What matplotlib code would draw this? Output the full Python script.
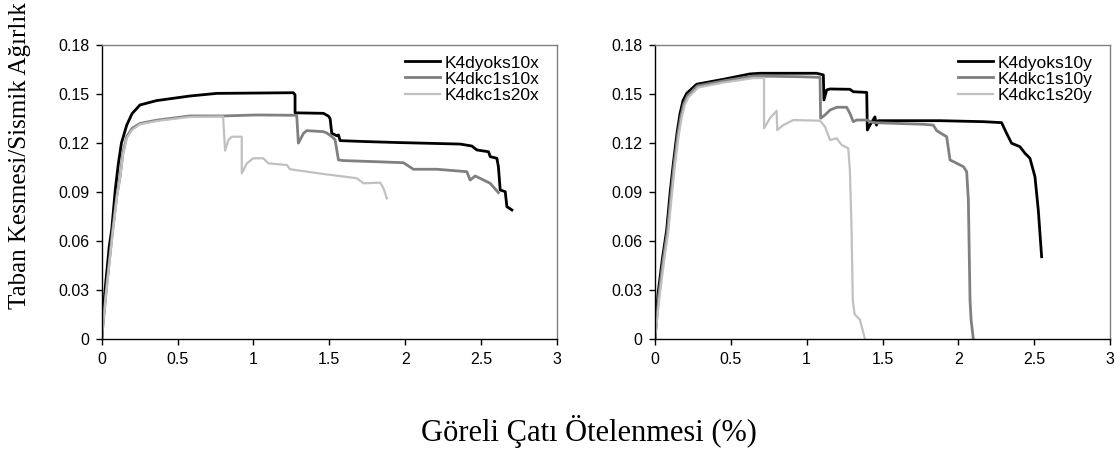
import matplotlib
matplotlib.use("Agg")
import matplotlib.pyplot as plt

# ---------------- data (left panel, x direction) ----------------
lx_black = [0, 0.02, 0.05, 0.066, 0.09, 0.11, 0.13, 0.165, 0.2, 0.252, 0.362, 0.582, 0.758, 1.263, 1.274, 1.274,
            1.461, 1.494, 1.505, 1.516, 1.549, 1.56, 1.571, 1.747, 1.966, 2.362, 2.439, 2.472, 2.549, 2.56, 2.604,
            2.614, 2.626, 2.659, 2.67, 2.703]
ly_black = [0, 0.028, 0.057, 0.067, 0.092, 0.1076, 0.12, 0.131, 0.138, 0.1433, 0.146, 0.1488, 0.1504, 0.1508,
            0.1495, 0.1385, 0.1382, 0.1365, 0.135, 0.126, 0.1245, 0.125, 0.1215, 0.1209, 0.1203, 0.1194, 0.1182,
            0.1158, 0.1147, 0.1117, 0.1107, 0.1056, 0.0913, 0.0903, 0.0811, 0.0791]

lx_gray = [0, 0.03, 0.07, 0.1, 0.121, 0.14, 0.165, 0.2, 0.252, 0.362, 0.582, 0.80, 1.02, 1.285, 1.296, 1.33, 1.351,
           1.461, 1.483, 1.516, 1.538, 1.56, 1.593, 1.813, 1.988, 2.054, 2.208, 2.406, 2.428, 2.461, 2.56, 2.614]
ly_gray = [0, 0.03, 0.065, 0.088, 0.0995, 0.114, 0.124, 0.129, 0.132, 0.134, 0.1366, 0.1366, 0.1372, 0.137, 0.12,
           0.126, 0.1276, 0.127, 0.1262, 0.124, 0.122, 0.1097, 0.1093, 0.1086, 0.108, 0.104, 0.104, 0.1025, 0.0974,
           0.0999, 0.0954, 0.0897]

lx_light = [0, 0.03, 0.07, 0.1, 0.121, 0.14, 0.165, 0.2, 0.252, 0.362, 0.582, 0.80, 0.813, 0.835, 0.857, 0.923,
            0.923, 0.956, 0.999, 1.065, 1.098, 1.22, 1.241, 1.461, 1.681, 1.725, 1.835, 1.857, 1.879]
ly_light = [0, 0.029, 0.063, 0.087, 0.0985, 0.113, 0.123, 0.128, 0.1315, 0.1335, 0.136, 0.1362, 0.1154, 0.1219,
            0.1239, 0.1239, 0.1015, 0.1076, 0.1107, 0.1107, 0.1076, 0.1066, 0.104, 0.1011, 0.0985, 0.0954, 0.0958,
            0.0923, 0.0862]

# ---------------- data (right panel, y direction) ----------------
rx_black = [0, 0.02, 0.05, 0.077, 0.1, 0.121, 0.145, 0.165, 0.185, 0.209, 0.275, 0.45, 0.626, 0.692, 1.066, 1.11,
            1.114, 1.132, 1.154, 1.285, 1.307, 1.396, 1.40, 1.417, 1.45, 1.46, 1.472, 1.879, 2.164, 2.285, 2.318,
            2.351, 2.406, 2.439, 2.472, 2.505, 2.527, 2.549]
ry_black = [0, 0.028, 0.05, 0.0668, 0.09, 0.1076, 0.126, 0.138, 0.146, 0.1504, 0.156, 0.159, 0.1623, 0.1627,
            0.1627, 0.1617, 0.1464, 0.1525, 0.1531, 0.1529, 0.1514, 0.151, 0.128, 0.131, 0.136, 0.131, 0.1337,
            0.1337, 0.1331, 0.1325, 0.126, 0.1199, 0.1178, 0.1138, 0.1107, 0.0995, 0.0791, 0.0505]

rx_gray = [0, 0.025, 0.055, 0.082, 0.105, 0.125, 0.15, 0.17, 0.19, 0.215, 0.28, 0.45, 0.648, 0.956, 1.088, 1.092,
           1.121, 1.154, 1.198, 1.264, 1.285, 1.307, 1.33, 1.396, 1.439, 1.769, 1.835, 1.857, 1.923, 1.945, 2.033,
           2.055, 2.066, 2.077, 2.084, 2.099]
ry_gray = [0, 0.027, 0.049, 0.066, 0.088, 0.106, 0.125, 0.136, 0.144, 0.149, 0.155, 0.158, 0.161, 0.1606, 0.1602,
           0.1352, 0.1372, 0.1402, 0.1419, 0.1419, 0.1382, 0.1331, 0.1341, 0.1341, 0.1325, 0.1315, 0.131, 0.1276,
           0.1239, 0.1097, 0.1056, 0.1025, 0.0852, 0.024, 0.0118, 0.0]

rx_light = [0, 0.03, 0.06, 0.087, 0.11, 0.13, 0.155, 0.175, 0.195, 0.22, 0.285, 0.45, 0.65, 0.719, 0.719, 0.758,
            0.802, 0.806, 0.846, 0.912, 1.088, 1.121, 1.154, 1.198, 1.231, 1.274, 1.285, 1.296, 1.304, 1.316, 1.351,
            1.385]
ry_light = [0, 0.026, 0.048, 0.065, 0.087, 0.105, 0.124, 0.135, 0.143, 0.148, 0.154, 0.157, 0.1598, 0.1598, 0.129,
            0.1352, 0.1398, 0.128, 0.131, 0.1341, 0.1337, 0.13, 0.1219, 0.1229, 0.1188, 0.1168, 0.1035, 0.0668,
            0.024, 0.0153, 0.012, 0.0]

left_labels = ["K4dyoks10x", "K4dkc1s10x", "K4dkc1s20x"]
right_labels = ["K4dyoks10y", "K4dkc1s10y", "K4dkc1s20y"]
xticks = [0, 0.5, 1, 1.5, 2, 2.5, 3]
xtick_labels = ["0", "0.5", "1", "1.5", "2", "2.5", "3"]
yticks = [0, 0.03, 0.06, 0.09, 0.12, 0.15, 0.18]
ytick_labels = ["0", "0.03", "0.06", "0.09", "0.12", "0.15", "0.18"]
xlabel = "Göreli Çatı Ötelenmesi (%)"
ylabel = "Taban Kesmesi/Sismik Ağırlık"

colors = ["#000000", "#808080", "#c0c0c0"]
widths = [2.0, 2.0, 1.6]

plt.rcParams["font.family"] = ["Liberation Sans", "DejaVu Sans"]

fig = plt.figure(figsize=(11.2, 4.59), dpi=100)
ax1 = fig.add_axes([0.0908, 0.2608, 0.4065, 0.6412])
ax2 = fig.add_axes([0.5848, 0.2608, 0.4063, 0.6412])

panels = [
    (ax1, [(lx_black, ly_black), (lx_gray, ly_gray), (lx_light, ly_light)], left_labels),
    (ax2, [(rx_black, ry_black), (rx_gray, ry_gray), (rx_light, ry_light)], right_labels),
]

for ax, series, labels in panels:
    for (xs, ys), lab, c, w in zip(series, labels, colors, widths):
        ax.plot(xs, ys, color=c, lw=w, label=lab, solid_joinstyle="round")
    ax.set_xlim(0, 3)
    ax.set_ylim(0, 0.18)
    ax.set_xticks(xticks)
    ax.set_xticklabels(xtick_labels)
    ax.set_yticks(yticks)
    ax.set_yticklabels(ytick_labels)
    ax.tick_params(axis="both", direction="out", length=4, width=1, labelsize=11.5, colors="black", pad=5)
    ax.spines["left"].set_color("black")
    ax.spines["bottom"].set_color("black")
    ax.spines["top"].set_color("#808080")
    ax.spines["right"].set_color("#808080")
    for s in ax.spines.values():
        s.set_linewidth(1)
    ax.legend(loc="upper right", frameon=False, fontsize=12.5, handlelength=2.0, handletextpad=0.3,
              labelspacing=0.05, borderaxespad=0.2, bbox_to_anchor=(0.985, 1.0))

fig.text(0.5254, 0.059, xlabel, ha="center", va="center", fontsize=22, family=["Liberation Serif", "DejaVu Serif"])
fig.text(0.018, 0.66, ylabel, ha="center", va="center", rotation=90, fontsize=18,
         family=["Liberation Serif", "DejaVu Serif"])

fig.savefig("out.png", dpi=100)
